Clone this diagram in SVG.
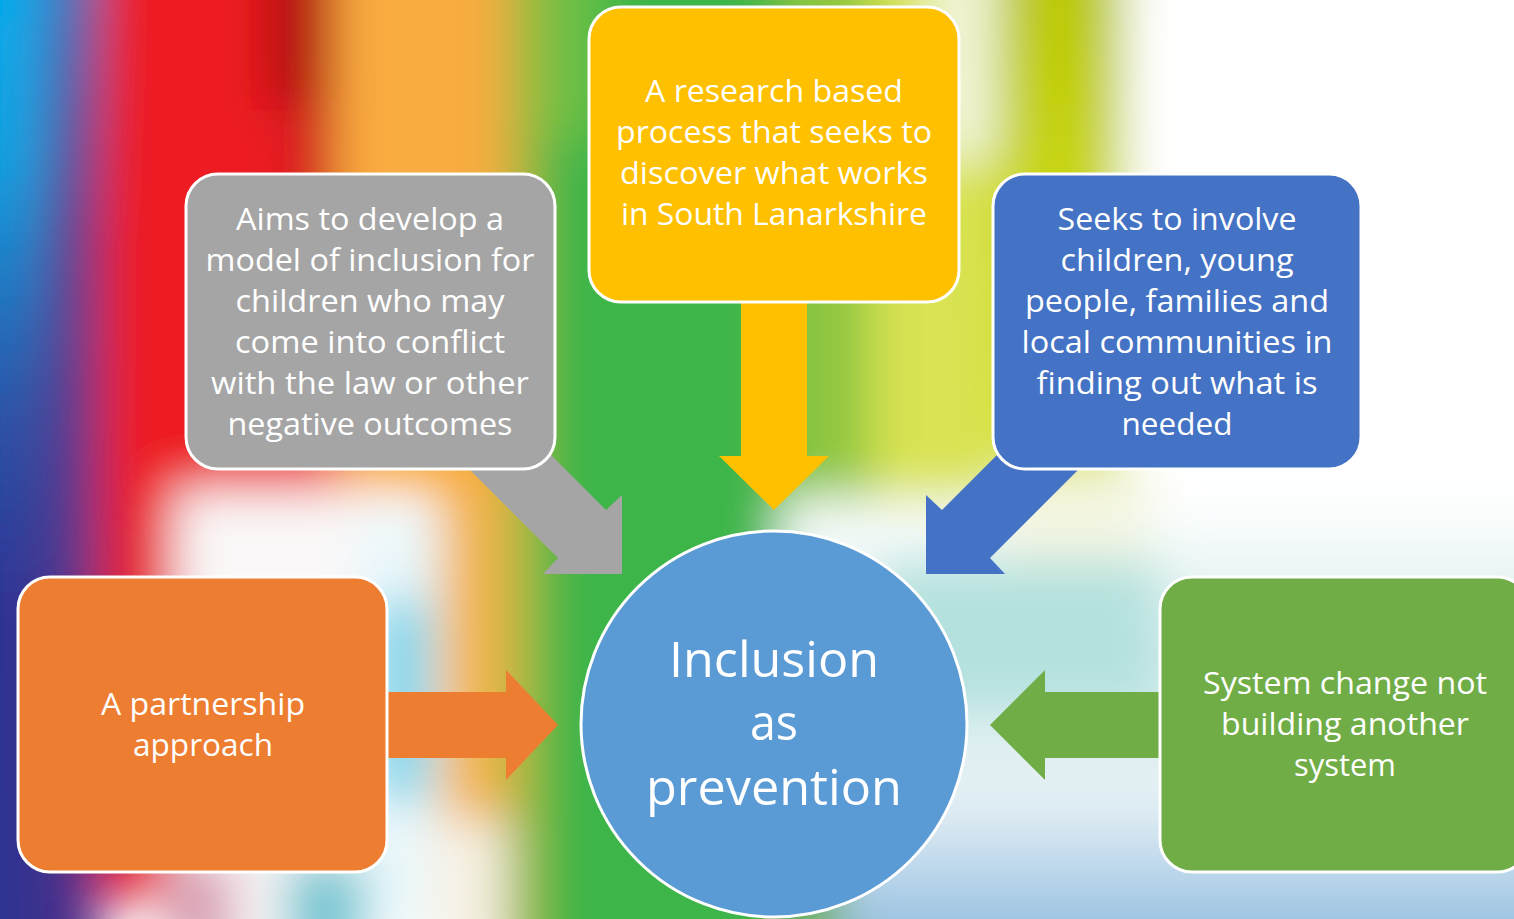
<svg xmlns="http://www.w3.org/2000/svg" width="1514" height="919" viewBox="0 0 1514 919">
<defs>
<style>
.box{stroke:#FFFFFF;stroke-width:3}
.t{font-family:"Open Sans","Liberation Sans",sans-serif;fill:#FFFFFF;text-anchor:middle;font-size:31px}
.big{font-family:"Open Sans","Liberation Sans",sans-serif;fill:#FFFFFF;text-anchor:middle;font-size:50px}
</style>
<filter id="blur" x="-0.1" y="-0.1" width="1.2" height="1.2"><feGaussianBlur stdDeviation="24"/></filter>
<linearGradient id="leftEdge" x1="0" y1="0" x2="0" y2="1">
<stop offset="0" stop-color="#00AEEF"/><stop offset="0.22" stop-color="#0FA0E0"/><stop offset="0.45" stop-color="#2A55A8"/><stop offset="0.65" stop-color="#2E3192"/><stop offset="1" stop-color="#2E3192"/>
</linearGradient>
<linearGradient id="purple" x1="0" y1="0" x2="0" y2="1">
<stop offset="0" stop-color="#3F78C0"/><stop offset="0.3" stop-color="#5A3E90"/><stop offset="1" stop-color="#4A2D86"/>
</linearGradient>
<linearGradient id="olive" x1="0" y1="0" x2="0" y2="1">
<stop offset="0" stop-color="#B6C303"/><stop offset="0.5" stop-color="#CBD81A"/><stop offset="1" stop-color="#DCE33A"/>
</linearGradient>
<linearGradient id="rightLow" x1="0" y1="0" x2="0" y2="1">
<stop offset="0" stop-color="#FFFFFF"/><stop offset="0.3" stop-color="#D3ECEA"/><stop offset="0.6" stop-color="#E6F1F5"/><stop offset="0.8" stop-color="#A9CBE6"/><stop offset="1" stop-color="#7EAFD6"/>
</linearGradient>
</defs>

<g id="background">
<rect x="0" y="0" width="1514" height="919" fill="#FFFFFF"/>
<g filter="url(#blur)">
<rect x="-80" y="-80" width="130" height="1080" fill="url(#leftEdge)"/>
<rect x="45" y="-80" width="55" height="1080" fill="url(#purple)"/>
<rect x="100" y="-80" width="235" height="600" fill="#ED1C24"/>
<rect x="100" y="520" width="75" height="380" fill="#E8202C"/>
<rect x="265" y="-80" width="70" height="190" fill="#B30B0E"/>
<rect x="290" y="100" width="45" height="220" fill="#CC161C"/>
<rect x="335" y="-80" width="170" height="570" fill="#F9AC40"/>
<rect x="175" y="490" width="190" height="450" fill="#FAF8F8"/>
<rect x="165" y="860" width="70" height="100" fill="#D8A0B4"/>
<rect x="360" y="510" width="80" height="420" fill="#EAF8FC"/>
<rect x="375" y="600" width="50" height="200" fill="#5FD0EA"/>
<rect x="285" y="860" width="80" height="100" fill="#74C6D2"/>
<rect x="440" y="490" width="80" height="330" fill="#F4B34C"/>
<rect x="430" y="820" width="100" height="140" fill="#F7F1E4"/>
<rect x="505" y="-80" width="35" height="1080" fill="#A8B83E"/>
<rect x="540" y="-80" width="240" height="1080" fill="#3DB54A"/>
<rect x="540" y="-80" width="60" height="220" fill="#6CC045"/>
<rect x="780" y="-80" width="90" height="620" fill="#8DC63F"/>
<rect x="870" y="-80" width="125" height="590" fill="#D9E352"/>
<rect x="930" y="-80" width="70" height="240" fill="#F3F6DC"/>
<rect x="995" y="-80" width="130" height="590" fill="url(#olive)"/>
<rect x="1125" y="-80" width="480" height="540" fill="#FFFFFF"/>
<rect x="780" y="500" width="830" height="500" fill="url(#rightLow)"/>
<rect x="880" y="560" width="280" height="150" fill="#B4E1DE"/>
<rect x="1000" y="470" width="150" height="90" fill="#F4F6E2"/>
<rect x="780" y="870" width="60" height="90" fill="#6FAE55"/>
</g>
</g>

<g id="connectors">
<polygon fill="#A5A5A5" points="450,450 558,558 543,574 622,574 622,495 606,510 498,402"/>
<polygon fill="#FFC000" points="741,290 807,290 807,456 829,456 774,510 719,456 741,456"/>
<polygon fill="#4472C4" points="1098,450 990,558 1005,574 926,574 926,495 942,510 1050,402"/>
<polygon fill="#ED7D31" points="380,692 506,692 506,670 558,725 506,780 506,758 380,758"/>
<polygon fill="#70AD47" points="1170,692 1045,692 1045,670 990,725 1045,780 1045,758 1170,758"/>
</g>

<g id="node-aims">
<rect class="box" x="186" y="174" width="369" height="295" rx="32" fill="#A5A5A5"/>
<text class="t" x="370" y="230" textLength="268" lengthAdjust="spacingAndGlyphs">Aims to develop a</text>
<text class="t" x="370" y="271" textLength="329" lengthAdjust="spacingAndGlyphs">model of inclusion for</text>
<text class="t" x="370" y="312" textLength="269" lengthAdjust="spacingAndGlyphs">children who may</text>
<text class="t" x="370" y="353" textLength="270" lengthAdjust="spacingAndGlyphs">come into conflict</text>
<text class="t" x="370" y="394" textLength="318" lengthAdjust="spacingAndGlyphs">with the law or other</text>
<text class="t" x="370" y="435" textLength="285" lengthAdjust="spacingAndGlyphs">negative outcomes</text>
</g>

<g id="node-research">
<rect class="box" x="589" y="7" width="370" height="295" rx="32" fill="#FFC000"/>
<text class="t" x="774" y="102" textLength="258" lengthAdjust="spacingAndGlyphs">A research based</text>
<text class="t" x="774" y="143" textLength="316" lengthAdjust="spacingAndGlyphs">process that seeks to</text>
<text class="t" x="774" y="184" textLength="308" lengthAdjust="spacingAndGlyphs">discover what works</text>
<text class="t" x="774" y="225" textLength="306" lengthAdjust="spacingAndGlyphs">in South Lanarkshire</text>
</g>

<g id="node-involve">
<rect class="box" x="993" y="174" width="368" height="295" rx="32" fill="#4472C4"/>
<text class="t" x="1177" y="230" textLength="239" lengthAdjust="spacingAndGlyphs">Seeks to involve</text>
<text class="t" x="1177" y="271" textLength="233" lengthAdjust="spacingAndGlyphs">children, young</text>
<text class="t" x="1177" y="312" textLength="304" lengthAdjust="spacingAndGlyphs">people, families and</text>
<text class="t" x="1177" y="353" textLength="311" lengthAdjust="spacingAndGlyphs">local communities in</text>
<text class="t" x="1177" y="394" textLength="281" lengthAdjust="spacingAndGlyphs">finding out what is</text>
<text class="t" x="1177" y="435" textLength="111" lengthAdjust="spacingAndGlyphs">needed</text>
</g>

<g id="node-partnership">
<rect class="box" x="18" y="577" width="369" height="295" rx="32" fill="#ED7D31"/>
<text class="t" x="203" y="715" textLength="204" lengthAdjust="spacingAndGlyphs">A partnership</text>
<text class="t" x="203" y="756" textLength="140" lengthAdjust="spacingAndGlyphs">approach</text>
</g>

<g id="node-system">
<rect class="box" x="1160" y="577" width="369" height="295" rx="32" fill="#70AD47"/>
<text class="t" x="1345" y="694" textLength="284" lengthAdjust="spacingAndGlyphs">System change not</text>
<text class="t" x="1345" y="735" textLength="248" lengthAdjust="spacingAndGlyphs">building another</text>
<text class="t" x="1345" y="776" textLength="102" lengthAdjust="spacingAndGlyphs">system</text>
</g>

<g id="node-center">
<circle cx="774" cy="724" r="193" fill="#5B9BD5" stroke="#FFFFFF" stroke-width="3"/>
<text class="big" x="774" y="677" textLength="210" lengthAdjust="spacingAndGlyphs">Inclusion</text>
<text class="big" x="774" y="740" textLength="48" lengthAdjust="spacingAndGlyphs">as</text>
<text class="big" x="774" y="805" textLength="256" lengthAdjust="spacingAndGlyphs">prevention</text>
</g>
</svg>
